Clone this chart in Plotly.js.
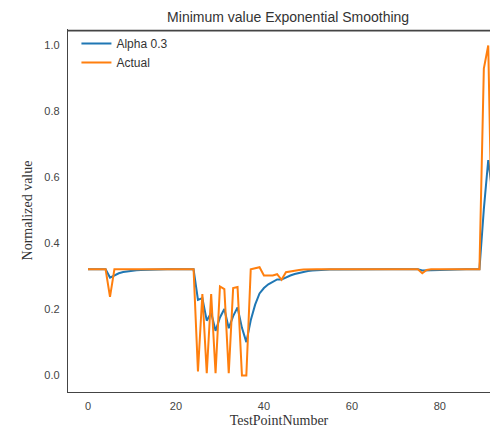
<!DOCTYPE html>
<html>
<head>
<meta charset="utf-8">
<script src="https://cdn.plot.ly/plotly-3.0.1.min.js"></script>
<style>html,body{margin:0;padding:0;background:#fff;}#chart{width:490px;height:428px;}</style>
</head>
<body>
<div id="chart"></div>
<script>
// Test point indices 0..92
const testPoints = Array.from({length: 93}, (_, i) => i);

// Actual normalized minimum values
const actual = [
  0.322, 0.322, 0.322, 0.322, 0.322, 0.238, 0.322, 0.322, 0.322, 0.322,
  0.322, 0.322, 0.322, 0.322, 0.322, 0.322, 0.322, 0.322, 0.322, 0.322,
  0.322, 0.322, 0.322, 0.322, 0.322, 0.012, 0.247, 0.007, 0.247, 0.007,
  0.270, 0.262, 0.007, 0.265, 0.268, 0.000, 0.000, 0.322, 0.325, 0.328,
  0.303, 0.303, 0.303, 0.307, 0.290, 0.313, 0.316, 0.318, 0.320, 0.321,
  0.322, 0.322, 0.322, 0.322, 0.322, 0.322, 0.322, 0.322, 0.322, 0.322,
  0.322, 0.322, 0.322, 0.322, 0.322, 0.322, 0.322, 0.322, 0.322, 0.322,
  0.322, 0.322, 0.322, 0.322, 0.322, 0.322, 0.310, 0.320, 0.322, 0.322,
  0.322, 0.322, 0.322, 0.322, 0.322, 0.322, 0.322, 0.322, 0.322, 0.322,
  0.930, 1.000, 0.300
];

// Exponentially smoothed values, alpha 0.3
const alpha03 = [
  0.322, 0.322, 0.322, 0.322, 0.322, 0.2968, 0.3044, 0.3097, 0.3134, 0.3160,
  0.3178, 0.3191, 0.3200, 0.3206, 0.3210, 0.3213, 0.3215, 0.3217, 0.3218, 0.3219,
  0.3219, 0.3220, 0.3220, 0.3220, 0.3220, 0.2290, 0.2344, 0.1662, 0.1904, 0.1354,
  0.1758, 0.2017, 0.1433, 0.1798, 0.2063, 0.1444, 0.1011, 0.1674, 0.2147, 0.2487,
  0.2650, 0.2764, 0.2844, 0.2912, 0.2908, 0.2975, 0.3031, 0.3076, 0.3113, 0.3142,
  0.3165, 0.3182, 0.3193, 0.3201, 0.3207, 0.3211, 0.3214, 0.3216, 0.3217, 0.3218,
  0.3219, 0.3219, 0.3220, 0.3220, 0.3220, 0.3220, 0.3220, 0.3220, 0.3220, 0.3220,
  0.3220, 0.3220, 0.3220, 0.3220, 0.3220, 0.3220, 0.3184, 0.3189, 0.3198, 0.3205,
  0.3209, 0.3212, 0.3215, 0.3216, 0.3217, 0.3218, 0.3219, 0.3219, 0.3220, 0.3220,
  0.5040, 0.6530, 0.5470
];

const xTicks = [0, 20, 40, 60, 80];
const yTicks = [0.0, 0.2, 0.4, 0.6, 0.8, 1.0];

const traces = [
  {x: testPoints, y: alpha03, type: 'scatter', mode: 'lines', name: 'Alpha 0.3',
   line: {color: '#1f77b4', width: 2}},
  {x: testPoints, y: actual, type: 'scatter', mode: 'lines', name: 'Actual',
   line: {color: '#ff7f0e', width: 2}}
];

const tickFont = {family: 'Liberation Sans, Arial, sans-serif', size: 11, color: '#444'};
const labelFont = {family: 'Liberation Serif, Times New Roman, serif', size: 14, color: '#333'};

const layout = {
  width: 490, height: 428,
  margin: {l: 68, r: 0, t: 29, b: 36, pad: 0},
  paper_bgcolor: '#fff', plot_bgcolor: '#fff',
  showlegend: true,
  title: {text: 'Minimum value Exponential Smoothing', xref: 'container', x: 0.588, xanchor: 'center',
          yref: 'container', y: 1 - 17/428, yanchor: 'middle',
          font: {family: 'Liberation Sans, Arial, sans-serif', size: 14, color: '#333'}},
  xaxis: {range: [-4.55, 91.4], tickvals: xTicks, ticks: '', showgrid: false, zeroline: false,
          showline: true, linecolor: '#444', linewidth: 1.2,
          tickfont: tickFont, ticklabelstandoff: 4,
          title: {text: 'TestPointNumber', font: labelFont, standoff: 6}},
  yaxis: {range: [-0.05, 1.05], tickvals: yTicks, tickformat: '.1f', ticks: '', showgrid: false, zeroline: false,
          showline: true, linecolor: '#444', linewidth: 1.2,
          tickfont: tickFont, ticklabelstandoff: 5,
          title: {text: 'Normalized value', font: labelFont, standoff: 8}},
  shapes: [{type: 'rect', xref: 'paper', yref: 'paper', x0: 0, x1: 1, y0: 0.993, y1: 0.998,
            layer: 'above', line: {width: 0}, fillcolor: '#444'}],
  legend: {x: 0.02, y: 1.0, xanchor: 'left', yanchor: 'top', bgcolor: 'rgba(0,0,0,0)',
           font: {family: 'Liberation Sans, Arial, sans-serif', size: 12, color: '#333'},
           itemwidth: 30, tracegroupgap: 0}
};

Plotly.newPlot('chart', traces, layout, {displayModeBar: false, staticPlot: true});
</script>
</body>
</html>
